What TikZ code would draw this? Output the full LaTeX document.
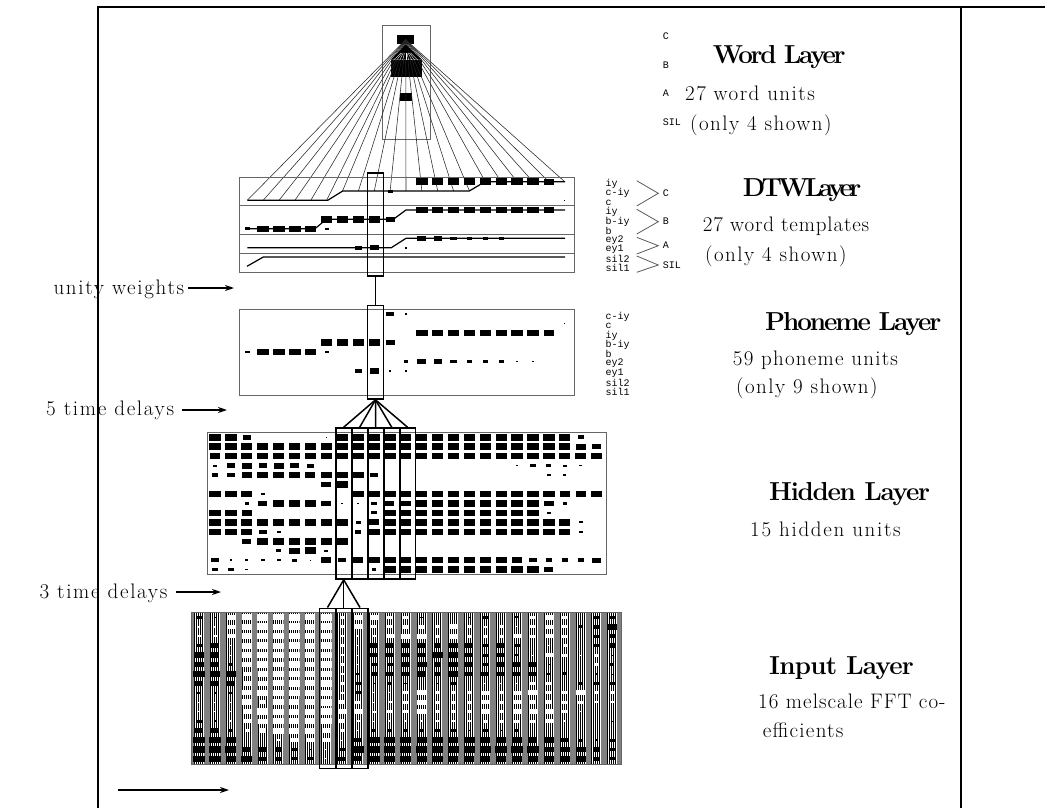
\documentclass[tikz,border=0pt]{standalone}
\usepackage{fontspec}
\setmainfont{Latin Modern Roman}
\usepackage{tikz}
\usetikzlibrary{arrows.meta,positioning,calc}
\newfontfamily\unitfont{Liberation Mono}

% one unit: x, y, size (negative values are white)
\newcommand{\unitblock}[3]{%
  \ifnum#3=0\else
    \ifnum#3<0\def\ucol{white}\else\def\ucol{black}\fi
    \pgfmathsetmacro{\bw}{0.62*abs(#3)+0.1}
    \pgfmathsetmacro{\bh}{0.36*abs(#3)+0.05}
    \fill[\ucol] (#1-\bw,#2-\bh) rectangle (#1+\bw,#2+\bh);
  \fi}
% activation rows: x0, dx, y0, dy, rows
\newcommand{\unitgrid}[5]{%
  \foreach \row [count=\r from 0] in {#5}{
    \foreach \v [count=\c from 0] in \row {
      \pgfmathsetmacro{\ux}{#1+#2*\c}
      \pgfmathsetmacro{\uy}{#3+#4*\r}
      \unitblock{\ux}{\uy}{\v}
    }
  }}

\begin{document}
\begin{tikzpicture}[
    x=1pt, y=-1pt,
    frameline/.style={line width=1.6pt, black},
    layerbox/.style={draw=black!60, line width=1pt},
    delaybox/.style={rectangle, draw=black, line width=1.6pt, inner sep=0pt, minimum width=16pt},
    weights/.style={line width=1.5pt, black},
    fanline/.style={line width=0.55pt, black!85},
    pathline/.style={line width=1.2pt, black},
    chevron/.style={line width=0.8pt, black!65},
    leftarrow/.style={line width=1.3pt, -{Stealth[length=9pt,width=6pt]}},
    wordunit/.style={rectangle, fill=black, inner sep=0pt},
    layertitle/.style={anchor=base west, inner sep=0pt, font=\fontsize{26}{31}\selectfont\bfseries\addfontfeature{LetterSpace=#1}},
    layertext/.style={anchor=base west, inner sep=0pt, font=\fontsize{21}{25}\selectfont\addfontfeature{LetterSpace=#1}},
    layertext/.default=7,
    unitname/.style={anchor=west, inner sep=0pt, font=\fontsize{10}{10}\selectfont\unitfont}
]
\useasboundingbox (0,0) rectangle (1045,808);

% Page Frame
\draw[frameline] (98,808) -- (98,7) -- (1045,7);
\draw[frameline] (961,7) -- (961,808);

% Word Layer
\node[wordunit, minimum width=16.7pt, minimum height=9.3pt] (wordC) at (405.7,39.7) {};
\node[wordunit, minimum width=30.7pt, minimum height=16.7pt] (wordB) at (406.3,68.3) {};
\node[wordunit, minimum width=12.3pt, minimum height=7.4pt] (wordA) at (406.2,97) {};
\draw[layerbox, line width=0.8pt] (382.7,25.3) rectangle (430.7,139.3);

% Template Connections
\foreach \c in {0,...,20}{
  \pgfmathsetmacro{\ty}{\c<6 ? 200.3 : (\c<15 ? 191 : 181.7)}
  \coordinate (tmpl\c) at (247.3+15.87*\c,\ty);
  \draw[fanline] (wordC.center) -- (tmpl\c);
}
\fill (wordC.south) -- (wordB.north west) -- (wordB.north east) -- cycle;
\foreach \i in {-4,...,4}
  \draw[white, line width=0.35pt] (405.7+1.2*\i,53) -- (405.7+3*\i,60);

% DTW Layer
\draw[layerbox] (239.7,177) rectangle (574,272);
\draw[layerbox] (239.7,205.7) -- (574,205.7);
\draw[layerbox] (239.7,234) -- (574,234);
\draw[layerbox] (239.7,253.5) -- (574,253.5);
\draw[pathline] (247.3,200.3) -- (327.7,200.3) -- (342.7,191) -- (469.3,191) -- (485,181.7) -- (565,181.7);
\draw[pathline] (247.3,228.7) -- (315,228.7) -- (326.3,219.3) -- (393.3,219.3) -- (406,210) -- (565,210);
\draw[pathline] (247.3,247.7) -- (391.3,247.7) -- (406,238.3) -- (565,238.3);
\draw[pathline] (247,266.3) -- (263.3,257) -- (565,257);
\unitgrid{247.3}{15.87}{181.7}{9.45}{
  {0,0,0,0,0,0,0,0,0,0,0,9,9,9,9,9,9,9,9,8,0},
  {0,0,0,0,0,0,0,0,0,4,0,0,0,0,0,0,0,0,0,0,0},
  {0,0,0,0,0,0,0,0,0,0,0,0,0,0,0,0,0,0,0,0,1},
  {0,0,0,0,0,0,0,0,0,0,0,9,9,9,9,9,9,9,9,8,0},
  {0,0,0,0,0,9,9,9,9,7,0,0,0,0,0,0,0,0,0,0,0},
  {4,9,9,9,9,3,0,0,0,0,0,0,0,0,0,0,0,0,0,0,0},
  {0,0,0,0,0,0,0,0,0,0,0,7,6,5,4,4,4,0,0,0,0},
  {0,0,0,0,0,0,0,5,7,0,2,0,0,0,0,0,0,0,0,0,0}}

% Phoneme Layer
\draw[layerbox] (239.7,309.5) rectangle (574,395);
\unitgrid{247.3}{15.87}{314}{9.5}{
  {0,0,0,0,0,0,0,0,0,6,2,0,0,0,0,0,0,0,0,0,0},
  {0,0,0,0,0,0,0,0,0,0,0,0,0,0,0,0,0,0,0,0,1},
  {0,0,0,0,0,0,0,0,0,0,0,9,9,9,9,9,9,9,9,8,0},
  {0,0,0,0,0,9,9,9,9,7,0,0,0,0,0,0,0,0,0,0,0},
  {4,9,9,9,9,3,0,0,0,0,0,0,0,0,0,0,0,0,0,0,0},
  {0,0,0,0,0,0,0,0,0,0,3,7,6,5,4,4,4,2,1,0,0},
  {0,0,0,0,0,0,0,5,7,2,2,0,0,0,0,0,0,0,0,0,0}}

% Hidden Layer
\draw[layerbox] (207.3,432.7) rectangle (606,574.7);
\unitgrid{215}{15.9}{437.3}{9.45}{
  {9,9,6,0,0,0,0,1,9,9,9,9,9,9,9,9,9,9,9,9,9,9,9,5,0},
  {9,9,9,9,9,9,9,9,9,9,9,9,9,9,9,9,9,9,9,9,9,9,9,8,7},
  {8,9,9,9,9,9,9,9,9,9,9,9,9,9,9,9,9,9,9,9,9,9,9,9,9},
  {3,6,8,6,8,7,5,0,0,0,0,0,0,0,0,0,0,0,0,1,4,4,3,2,0},
  {5,6,8,9,9,8,8,9,9,9,6,0,0,0,0,0,0,0,0,0,0,3,2,0,0},
  {0,0,0,0,0,0,0,8,9,0,0,0,0,0,0,0,0,0,0,0,0,0,0,0,0},
  {9,9,9,3,0,0,0,0,0,9,9,9,9,9,9,9,9,9,9,9,9,9,8,8,9},
  {0,0,3,7,9,9,9,8,1,1,4,7,8,9,9,9,9,9,9,9,9,8,3,0,0},
  {9,9,8,0,0,0,0,0,0,0,4,9,9,9,9,9,9,9,9,9,9,3,0,0,0},
  {9,9,9,9,9,9,9,9,9,4,8,9,9,9,9,9,9,9,9,9,9,9,9,3,0},
  {9,9,9,6,3,0,0,0,0,5,9,9,9,9,9,9,9,9,9,9,9,9,9,3,0},
  {0,0,7,9,9,9,9,9,9,0,0,0,0,0,0,0,0,0,0,0,0,0,0,0,0},
  {0,0,0,0,4,8,9,3,0,0,0,0,0,0,0,0,0,0,0,0,0,0,0,0,0},
  {6,2,2,3,3,4,1,8,6,8,9,9,9,9,9,9,9,9,9,8,6,5,5,5,7},
  {5,5,2,0,0,0,0,0,0,0,3,9,9,9,9,9,9,9,9,9,9,7,0,0,0}}

% Input Layer
\fill[black!50] (191.7,612.3) rectangle (621.7,764.3);
\foreach \col [count=\n from 0] in {
  {4,-2,-3,4,8,8,9,7,3,-1,-1,4,7,9,9,9},
  {2,-2,-3,6,7,7,8,7,2,-1,-1,2,6,9,9,9},
  {-6,-6,-6,-1,-1,4,8,6,2,-1,-2,-2,4,8,9,8},
  {-8,-8,-8,-8,-8,-8,-6,-6,-7,-8,-6,-6,-3,0,6,9},
  {-9,-9,-9,-9,-9,-9,-7,-7,-9,-5,-9,-7,-6,0,6,6},
  {-8,-8,-8,-8,-8,-8,-8,-8,-8,-8,-8,-8,-8,-3,6,6},
  {-9,-9,-9,-9,-9,-9,-9,-9,-9,-8,-8,-8,-8,-5,4,4},
  {-8,-8,-8,-8,-8,-8,-8,-8,-8,-8,-8,-8,-8,-6,2,4},
  {-9,-9,-9,-9,-9,-9,-9,-9,-9,-9,-9,-9,-6,-6,-1,-1},
  {-4,-4,-3,-3,-3,-3,-3,-4,-3,-5,-6,-5,-3,-1,5,6},
  {-6,-7,-2,-1,-1,-1,3,5,4,-4,-6,-3,-2,6,9,7},
  {-6,-4,-3,6,6,5,5,2,-1,-1,-3,-1,3,9,9,9},
  {-4,-4,-6,6,6,5,6,3,-1,-3,-4,-2,3,9,9,9},
  {-4,-5,-7,7,6,6,6,2,-4,-4,-4,-2,3,9,9,9},
  {2,-5,-7,7,6,8,7,0,-7,-7,-7,-2,4,8,9,8},
  {0,-4,-4,6,8,6,6,2,-4,-4,-4,-2,4,9,9,8},
  {0,-7,-7,7,8,7,8,4,-4,-4,-4,-2,4,8,9,8},
  {1,-4,-4,6,6,6,6,0,-4,-4,-4,-2,2,9,9,8},
  {4,-2,-4,4,4,4,6,-1,-6,-6,-6,-4,4,8,9,8},
  {0,-4,-4,6,6,6,6,-1,-4,-4,-4,-4,2,8,9,8},
  {3,-1,-6,4,3,6,6,-1,-6,-6,-6,-4,3,8,9,8},
  {-4,-4,-4,0,-1,6,6,-4,-7,-5,-6,-4,0,7,9,8},
  {-6,-6,-6,-1,-6,1,3,-4,-4,-5,-6,-6,0,8,8,8},
  {-4,-4,-4,-3,-4,1,4,1,-4,-4,-4,-2,0,6,8,8},
  {0,4,1,0,-1,0,0,4,-7,-4,-1,0,1,4,8,8},
  {4,6,4,4,-4,-3,2,4,-4,-3,0,0,0,2,6,6},
  {4,8,6,6,1,3,1,4,-4,-2,0,1,0,4,5,4}}{
  \pgfmathsetmacro{\cx}{round(199+15.9*\n)}
  \fill[white] (\cx-5,612.3) rectangle (\cx+5,764.3);
  \foreach \k in {0,...,4}
    \fill[black] (\cx-5+2*\k,612.3) rectangle (\cx-3.8+2*\k,764.3);
  \foreach \v [count=\r from 0] in \col {
    \pgfmathsetmacro{\uy}{617.3+9.44*\r}
    \unitblock{199+15.9*\n}{\uy}{\v}
  }
}
\draw[layerbox] (191.7,612.3) rectangle (621.7,764.3);

% Time Delay Boxes
\node[delaybox, minimum height=103pt] (dtwbox) at (375.5,224.5) {};
\node[delaybox, minimum height=93.7pt] (phonbox) at (375.5,352.2) {};
\draw[weights] (dtwbox.south) -- (phonbox.north);
\foreach \i/\x in {1/343.7,2/359.7,3/375.7,4/391.7,5/407.5}{
  \node[delaybox, minimum height=151pt] (hid\i) at (\x,503.5) {};
  \draw[weights] (phonbox.south) -- (hid\i.north);
}
\foreach \i/\x in {1/327.5,2/343.7,3/360}{
  \node[delaybox, minimum height=160pt] (inp\i) at (\x,688.3) {};
  \draw[weights] (hid1.south) -- (inp\i.north);
}

% Left Labels
\node[layertext=8] (unity) at (53.3,294.3) {unity weights};
\node[layertext=8] (fived) at (46,415) {5 time delays};
\node[layertext=8] (threed) at (39.3,598.3) {3 time delays};
\coordinate (unityend) at (234,288);
\coordinate (fiveend) at (227,410);
\coordinate (threeend) at (221,592);
\coordinate (timestart) at (118,790);
\coordinate (timeend) at (229,790);
\draw[leftarrow] (188,288) -- (unityend);
\draw[leftarrow] (182,410) -- (fiveend);
\draw[leftarrow] (176,592) -- (threeend);
\draw[leftarrow, line width=1.8pt] (timestart) -- (timeend);

% Word Names
\node[unitname] (nameC) at (662.7,36.7) {C};
\node[unitname] (nameB) at (662.7,65) {B};
\node[unitname] (nameA) at (662.7,93.3) {A};
\node[unitname] (nameSIL) at (662.7,122.7) {SIL};

% DTW Names
\foreach \lab/\y in {iy/184,c-iy/193.3,c/202.7,iy/212,b-iy/221.5,b/231,ey2/240,ey1/249,sil2/258.7,sil1/268}
  \node[unitname] at (605.3,\y) {\lab};
\draw[chevron] (636.7,180.7) -- (658.3,193.3) -- (636.7,206);
\draw[chevron] (636.7,209.3) -- (658.3,221.7) -- (636.7,234);
\draw[chevron] (636.7,237.3) -- (658.3,245.7) -- (636.7,254);
\draw[chevron] (636.7,256) -- (658.3,265) -- (636.7,272.3);
\node[unitname] at (662.7,193.3) {C};
\node[unitname] at (662.7,221.7) {B};
\node[unitname] at (662.7,245.7) {A};
\node[unitname] at (662.7,265) {SIL};

% Phoneme Names
\foreach \lab/\y in {c-iy/317,c/326,iy/335.5,b-iy/345,b/354,ey2/363.5,ey1/373,sil2/382.5,sil1/392}
  \node[unitname] at (605.3,\y) {\lab};

% Layer Titles
\node[layertitle=-9] (wordtitle) at (712.7,64) {Word Layer};
\node[layertext] at (685,100) {27 word units};
\node[layertext] at (690,130) {(only 4 shown)};
\node[layertitle=-14] (dtwtitle) at (742.7,196.7) {DTWLayer};
\node[layertext=4] at (702.7,231.7) {27 word templates};
\node[layertext] at (705,261.7) {(only 4 shown)};
\node[layertitle=-8] (phontitle) at (765,330) {Phoneme Layer};
\node[layertext=6] at (732.7,365) {59 phoneme units};
\node[layertext] at (736,393.3) {(only 9 shown)};
\node[layertitle=-5] (hidtitle) at (769,500.7) {Hidden Layer};
\node[layertext=8] at (750,536.7) {15 hidden units};
\node[layertitle=-3] (inptitle) at (769,674) {Input Layer};
\node[layertext=5] at (758,708) {16 melscale FFT co-};
\node[layertext=6] at (762.7,737.7) {efficients};

\end{tikzpicture}
\end{document}
